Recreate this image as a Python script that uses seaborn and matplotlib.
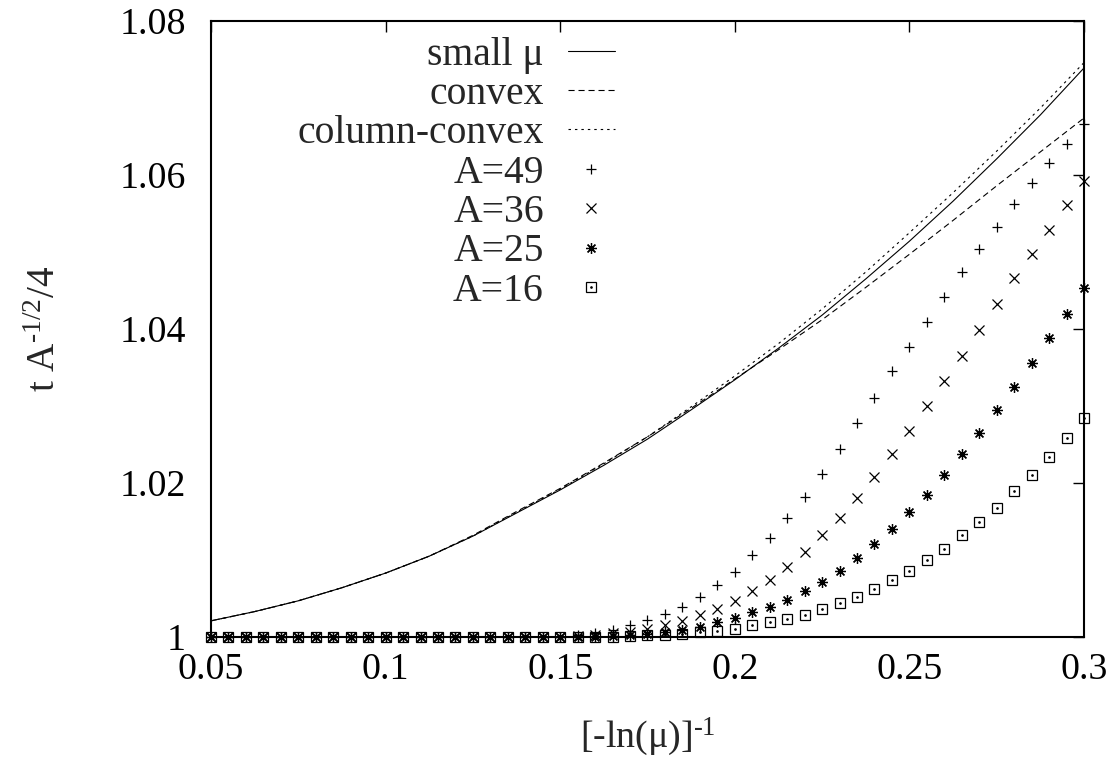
import numpy as np
import matplotlib
matplotlib.use("Agg")
import matplotlib.pyplot as plt
import seaborn as sns
from matplotlib.legend_handler import HandlerTuple

# curves, read at steps of 0.0125 in x
x_line = [0.05, 0.0625, 0.075, 0.0875, 0.1, 0.1125, 0.125, 0.1375, 0.15, 0.1625,
          0.175, 0.1875, 0.2, 0.2125, 0.225, 0.2375, 0.25, 0.2625, 0.275, 0.2875, 0.3]
small_mu = [1.0021, 1.0033, 1.0047, 1.0064, 1.0083, 1.0105, 1.0131, 1.0161, 1.0191, 1.0223,
            1.0257, 1.0295, 1.0334, 1.0375, 1.0418, 1.0465, 1.0514, 1.0566, 1.0621, 1.0678, 1.0739]
convex = [1.0021, 1.0033, 1.0047, 1.0064, 1.0083, 1.0105, 1.0132, 1.0163, 1.0193, 1.0226,
          1.0260, 1.0297, 1.0335, 1.0373, 1.0412, 1.0454, 1.0497, 1.0541, 1.0586, 1.0630, 1.0674]
column_convex = [1.0021, 1.0033, 1.0047, 1.0064, 1.0083, 1.0105, 1.0131, 1.0162, 1.0192, 1.0225,
                 1.0260, 1.0299, 1.0339, 1.0381, 1.0426, 1.0474, 1.0525, 1.0577, 1.0631, 1.0687, 1.0746]

# data points, x = 0.05 ... 0.3 in steps of 0.005
x_pts = np.linspace(0.05, 0.3, 51)
a49 = [1.0] * 21 + [1.0002, 1.0005, 1.0009, 1.0016, 1.0022, 1.0030, 1.0039, 1.0052, 1.0067, 1.0085,
                    1.0106, 1.0128, 1.0155, 1.0182, 1.0212, 1.0244, 1.0278, 1.0311, 1.0345, 1.0377,
                    1.0409, 1.0442, 1.0474, 1.0504, 1.0533, 1.0562, 1.0589, 1.0615, 1.0640, 1.0666]
a36 = [1.0] * 21 + [1.0001, 1.0002, 1.0005, 1.0007, 1.0010, 1.0015, 1.0021, 1.0028, 1.0037, 1.0047,
                    1.0060, 1.0074, 1.0091, 1.0110, 1.0132, 1.0155, 1.0180, 1.0208, 1.0238, 1.0268,
                    1.0300, 1.0333, 1.0365, 1.0399, 1.0432, 1.0466, 1.0498, 1.0529, 1.0561, 1.0592]
a25 = [1.0] * 23 + [1.0001, 1.0002, 1.0004, 1.0006, 1.0009, 1.0013, 1.0019, 1.0025, 1.0032, 1.0039,
                    1.0048, 1.0060, 1.0072, 1.0086, 1.0102, 1.0121, 1.0140, 1.0162, 1.0185, 1.0210,
                    1.0238, 1.0265, 1.0295, 1.0325, 1.0356, 1.0388, 1.0420, 1.0453]
a16 = [1.0] * 24 + [1.0001, 1.0002, 1.0003, 1.0004, 1.0006, 1.0008, 1.0011, 1.0015, 1.0019, 1.0023,
                    1.0029, 1.0036, 1.0044, 1.0052, 1.0062, 1.0074, 1.0086, 1.0100, 1.0114, 1.0132,
                    1.0149, 1.0168, 1.0190, 1.0211, 1.0234, 1.0259, 1.0285]

x_ticks = [0.05, 0.1, 0.15, 0.2, 0.25, 0.3]
x_ticklabels = ["0.05", "0.1", "0.15", "0.2", "0.25", "0.3"]
y_ticks = [1.0, 1.02, 1.04, 1.06, 1.08]
y_ticklabels = ["1", "1.02", "1.04", "1.06", "1.08"]

sns.set_style("white")
plt.rcParams["font.family"] = ["Liberation Serif", "DejaVu Serif"]
plt.rcParams["mathtext.fontset"] = "custom"
plt.rcParams["mathtext.rm"] = "Liberation Serif"
plt.rcParams["mathtext.it"] = "Liberation Serif:italic"
fs = 27.3
fs_leg = 28.5

fig = plt.figure(figsize=(11.16, 7.61), dpi=100)
W, H = 1116, 761
ax = fig.add_axes([211 / W, 1 - 637 / H, (1084 - 211) / W, (637 - 21) / H])

lw = 0.8
sns.lineplot(x=x_line, y=small_mu, ax=ax, color="black", lw=lw, label="small μ")
sns.lineplot(x=x_line, y=convex, ax=ax, color="black", lw=lw, linestyle=(0, (5.5, 3.5)), label="convex")
sns.lineplot(x=x_line, y=column_convex, ax=ax, color="black", lw=lw, linestyle=(0, (2.2, 3.6)),
             label="column-convex")

ms = 7.8
mew = 0.9
pt_kw = dict(ax=ax, color="black", linestyle="none", markeredgecolor="black",
             markeredgewidth=mew, clip_on=False)
sns.lineplot(x=x_pts, y=a49, marker="+", markersize=ms, label="A=49", **pt_kw)
sns.lineplot(x=x_pts, y=a36, marker="x", markersize=ms * 0.95, label="A=36", **pt_kw)
sns.lineplot(x=x_pts, y=a25, marker=(8, 2, 0), markersize=ms, label="A=25", **pt_kw)
sns.lineplot(x=x_pts, y=a16, marker="s", markersize=ms * 0.93, markerfacecolor="none",
             label="A=16", **pt_kw)
sns.lineplot(x=x_pts, y=a16, marker=".", markersize=2.0, label="_dot", **pt_kw)

ax.set_xlim(0.05, 0.3)
ax.set_ylim(1.0, 1.08)
ax.set_xticks(x_ticks)
ax.set_xticklabels(x_ticklabels)
ax.set_yticks(y_ticks)
ax.set_yticklabels(y_ticklabels)
ax.tick_params(direction="in", top=True, right=True, length=8, width=1, labelsize=fs, colors="black")
ax.tick_params(axis="x", pad=11)
ax.tick_params(axis="y", pad=18)
for s in ax.spines.values():
    s.set_visible(True)
    s.set_linewidth(1.5)
    s.set_color("black")

ax.set_xlabel(r"[-ln(μ)]$^{\text{-1}}$", fontsize=fs, labelpad=21)
ax.set_ylabel(r"t A$^{\text{-1/2}}$/4", fontsize=fs + 1, labelpad=40)

lines = ax.get_lines()
handles = list(lines[:6]) + [(lines[6], lines[7])]
labels = ["small μ", "convex", "column-convex", "A=49", "A=36", "A=25", "A=16"]
ax.legend(handles, labels, loc="upper right", bbox_to_anchor=(615 / W, 1 - 36.5 / H),
          bbox_transform=fig.transFigure, frameon=False, markerfirst=False, fontsize=fs_leg,
          handlelength=1.2, handletextpad=0.6, labelspacing=0.06, borderpad=0, borderaxespad=0,
          handler_map={tuple: HandlerTuple(ndivide=1)})

fig.savefig("out.png", dpi=100)
